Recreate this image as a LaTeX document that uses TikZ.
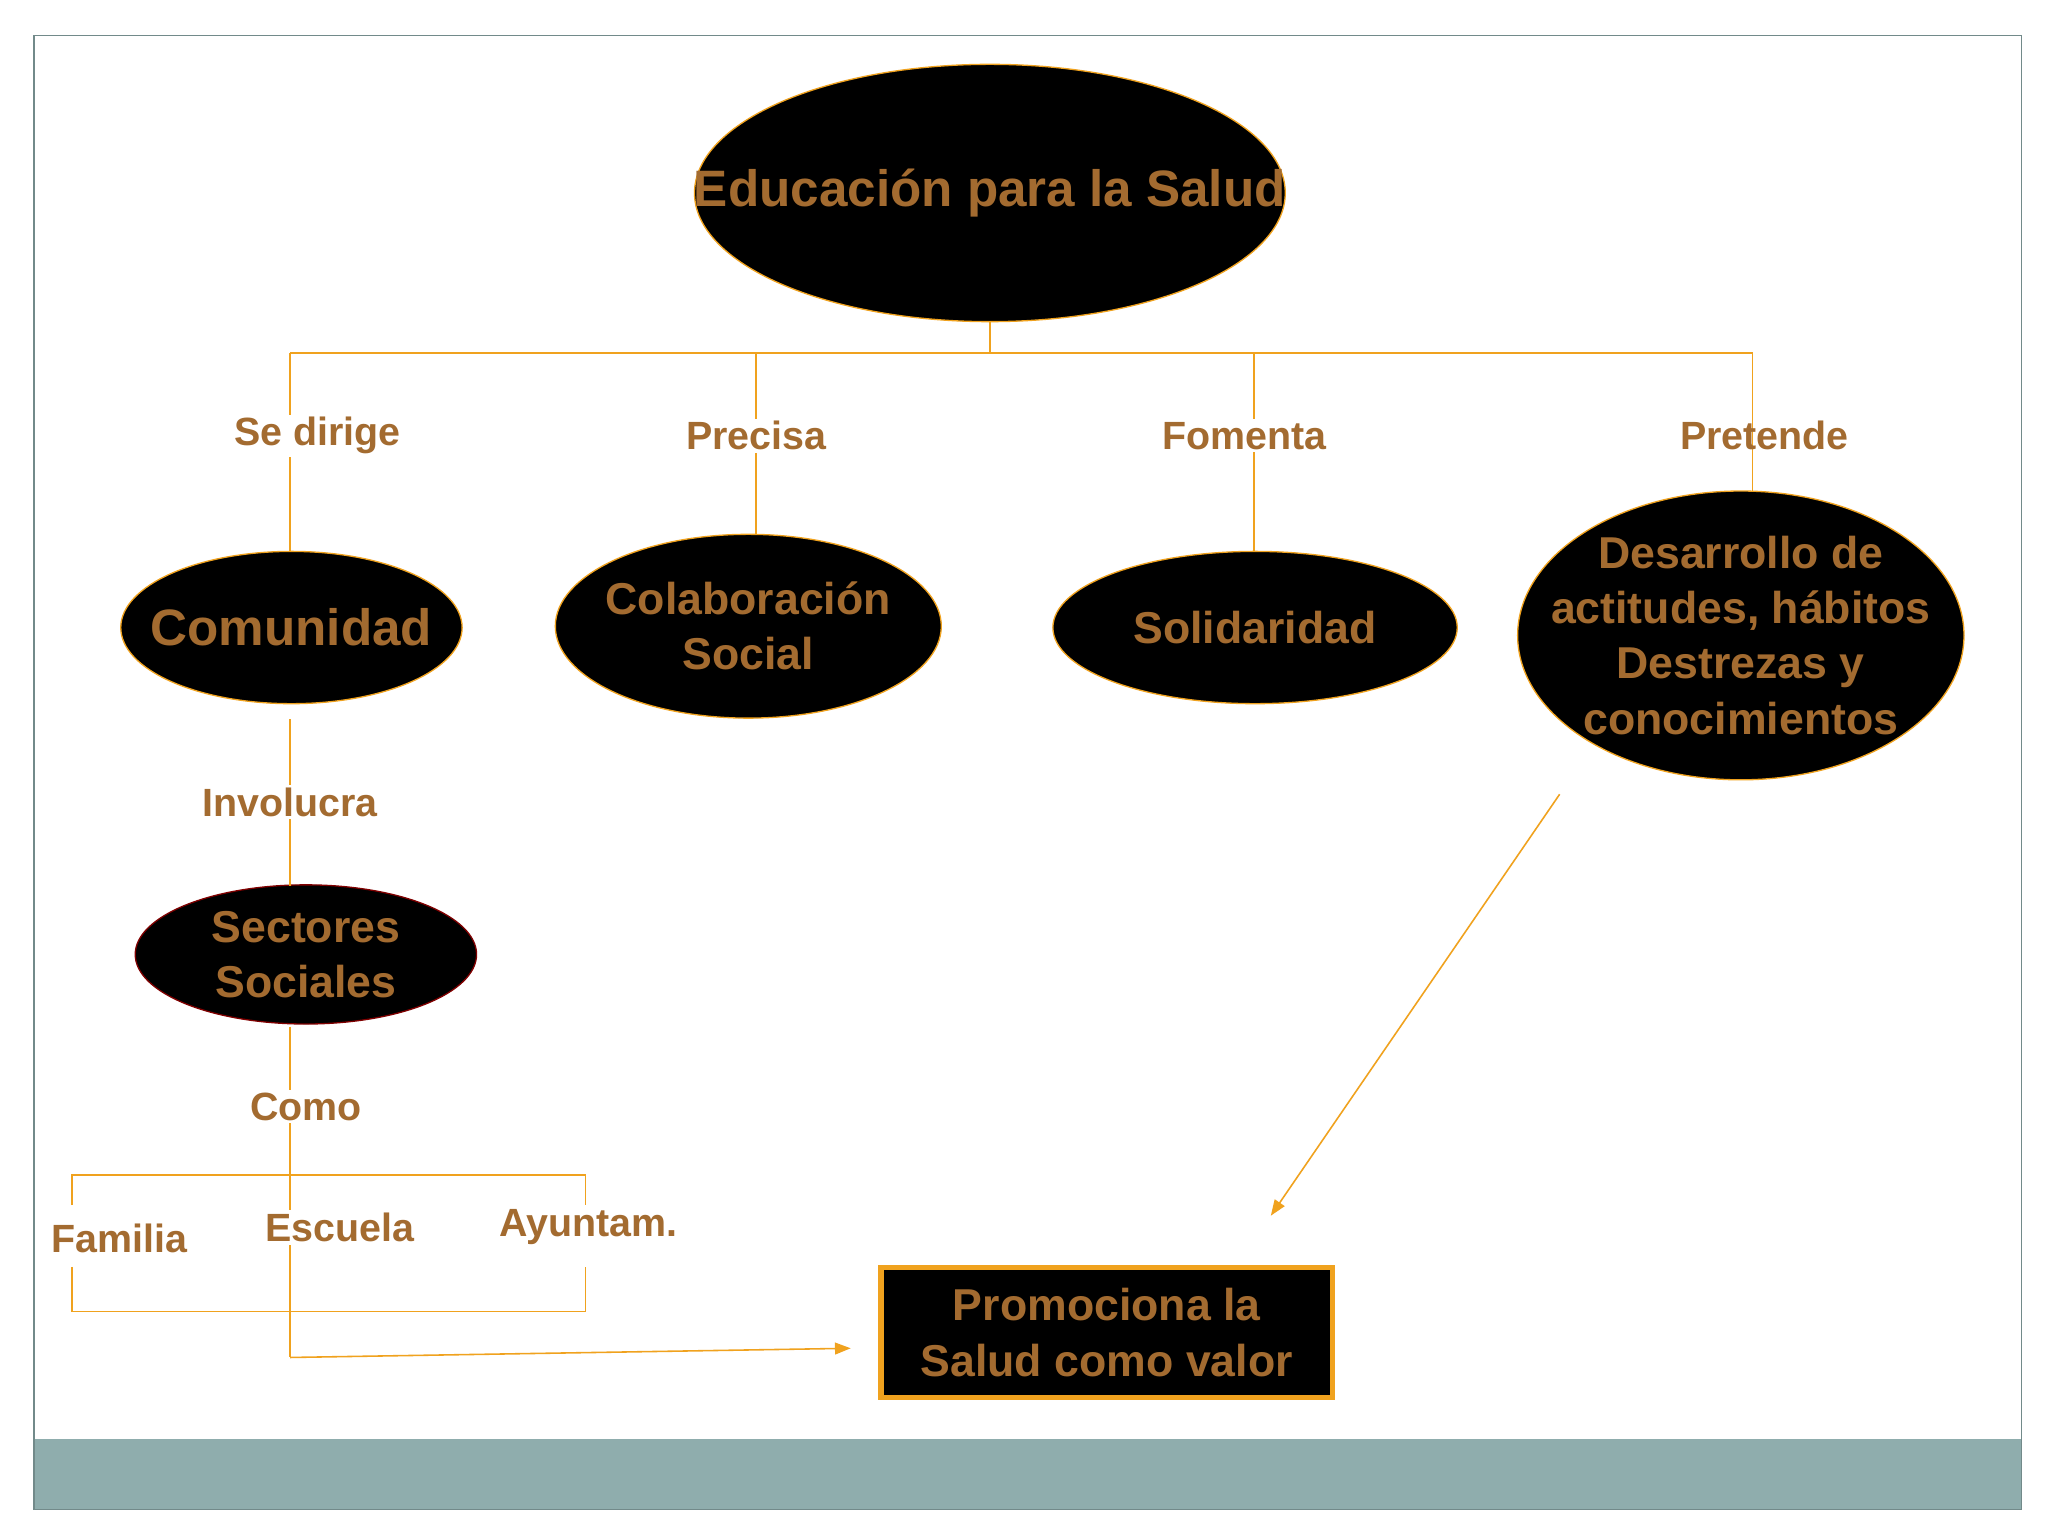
\documentclass[tikz,border=0pt]{standalone}
\usepackage{fontspec}
\setmainfont{Liberation Sans}
\usetikzlibrary{shapes.geometric,arrows.meta}
\definecolor{txt}{HTML}{A36B30}
\definecolor{ln}{HTML}{F0A21E}
\definecolor{band}{HTML}{8FADAD}
\tikzset{
 ell/.style={ellipse,draw=ln,fill=black,inner sep=0pt,line width=1pt},
 etxt/.style={text=txt,align=center,inner sep=0pt,font=\fontsize{34}{42}\selectfont\bfseries},
 lab/.style={text=txt,font=\fontsize{30}{34}\selectfont\bfseries,inner sep=0pt},
 conn/.style={draw=ln,line width=1.2pt},
}
\begin{document}
\begin{tikzpicture}[x=1pt,y=-1pt]
\useasboundingbox (0,0) rectangle (1560,1170);
\fill[white] (0,0) rectangle (1560,1170);
\fill[band] (26,1096) rectangle (1540,1150);
\draw[band!80!black,line width=1pt] (26,27) rectangle (1540,1150);
\node[ell,minimum width=450,minimum height=196] (top) at (754,147) {};
\node[etxt,font=\fontsize{39}{44}\selectfont\bfseries] (ttop) at (top.center) {Educación para la Salud};
\node[ell,minimum width=260,minimum height=116] (com) at (222,478) {};
\node[etxt,font=\fontsize{39}{44}\selectfont\bfseries] at (com.center) {Comunidad};
\node[ell,minimum width=294,minimum height=140] (col) at (570,477) {};
\node[etxt] at (col.center) {Colaboración\\Social};
\node[ell,minimum width=308,minimum height=116] (sol) at (956,478) {};
\node[etxt] at (sol.center) {Solidaridad};
\node[ell,minimum width=340,minimum height=220] (des) at (1326,484) {};
\node[etxt] at (des.center) {Desarrollo de\\actitudes, hábitos\\Destrezas y\\conocimientos};
\node[ell,draw=red!50!black,minimum width=260,minimum height=106] (sec) at (233,727) {};
\node[etxt] at (sec.center) {Sectores\\Sociales};
\node[draw=ln,fill=black,line width=4pt,minimum width=344,minimum height=99] (pro) at (843,1015) {};
\node[etxt] at (pro.center) {Promociona la\\Salud como valor};
% tree
\coordinate (j) at (754,269);
\coordinate (a) at (221,269); \coordinate (b) at (576,269);
\coordinate (c) at (955,269); \coordinate (d) at (1335,269);
\draw[conn] (top.south) -- (j);
\draw[conn] (a) -- (d);
\draw[conn] (a) -- (com.north -| a);
\draw[conn] (b) -- (col.north -| b);
\draw[conn] (c) -- (sol.north -| c);
\draw[conn] (d) -- (1335,374);
\node[lab,fill=white,inner sep=2pt] at (242,332) {Se dirige};
\node[lab,fill=white,inner sep=2pt] at (576,332) {Precisa};
\node[lab,fill=white,inner sep=2pt] at (948,332) {Fomenta};
\node[lab] at (1344,332) {Pretende};
\draw[conn] (221,548) -- (221,675);
\node[lab,fill=white,inner sep=2pt] at (221,611) {Involucra};
\draw[conn] (221,782) -- (221,1034);
\node[lab,fill=white,inner sep=2pt] at (233,843) {Como};
\draw[conn] (55,918) -- (55,895) -- (446,895) -- (446,918);
\draw[conn] (55,965) -- (55,999) -- (446,999) -- (446,965);
\node[lab] at (91,943) {Familia};
\node[lab,fill=white,inner sep=2pt] at (259,935) {Escuela};
\node[lab] at (448,935) {Ayuntam.};
\coordinate (e1) at (221,1034);
\coordinate (e2) at (648,1027);
\draw[conn,-{Triangle[length=12pt,width=9pt]}] (e1) -- (e2);
\coordinate (f1) at (1188,605);
\coordinate (f2) at (968,926);
\draw[conn,-{Triangle[length=12pt,width=9pt]}] (f1) -- (f2);
\end{tikzpicture}
\end{document}
